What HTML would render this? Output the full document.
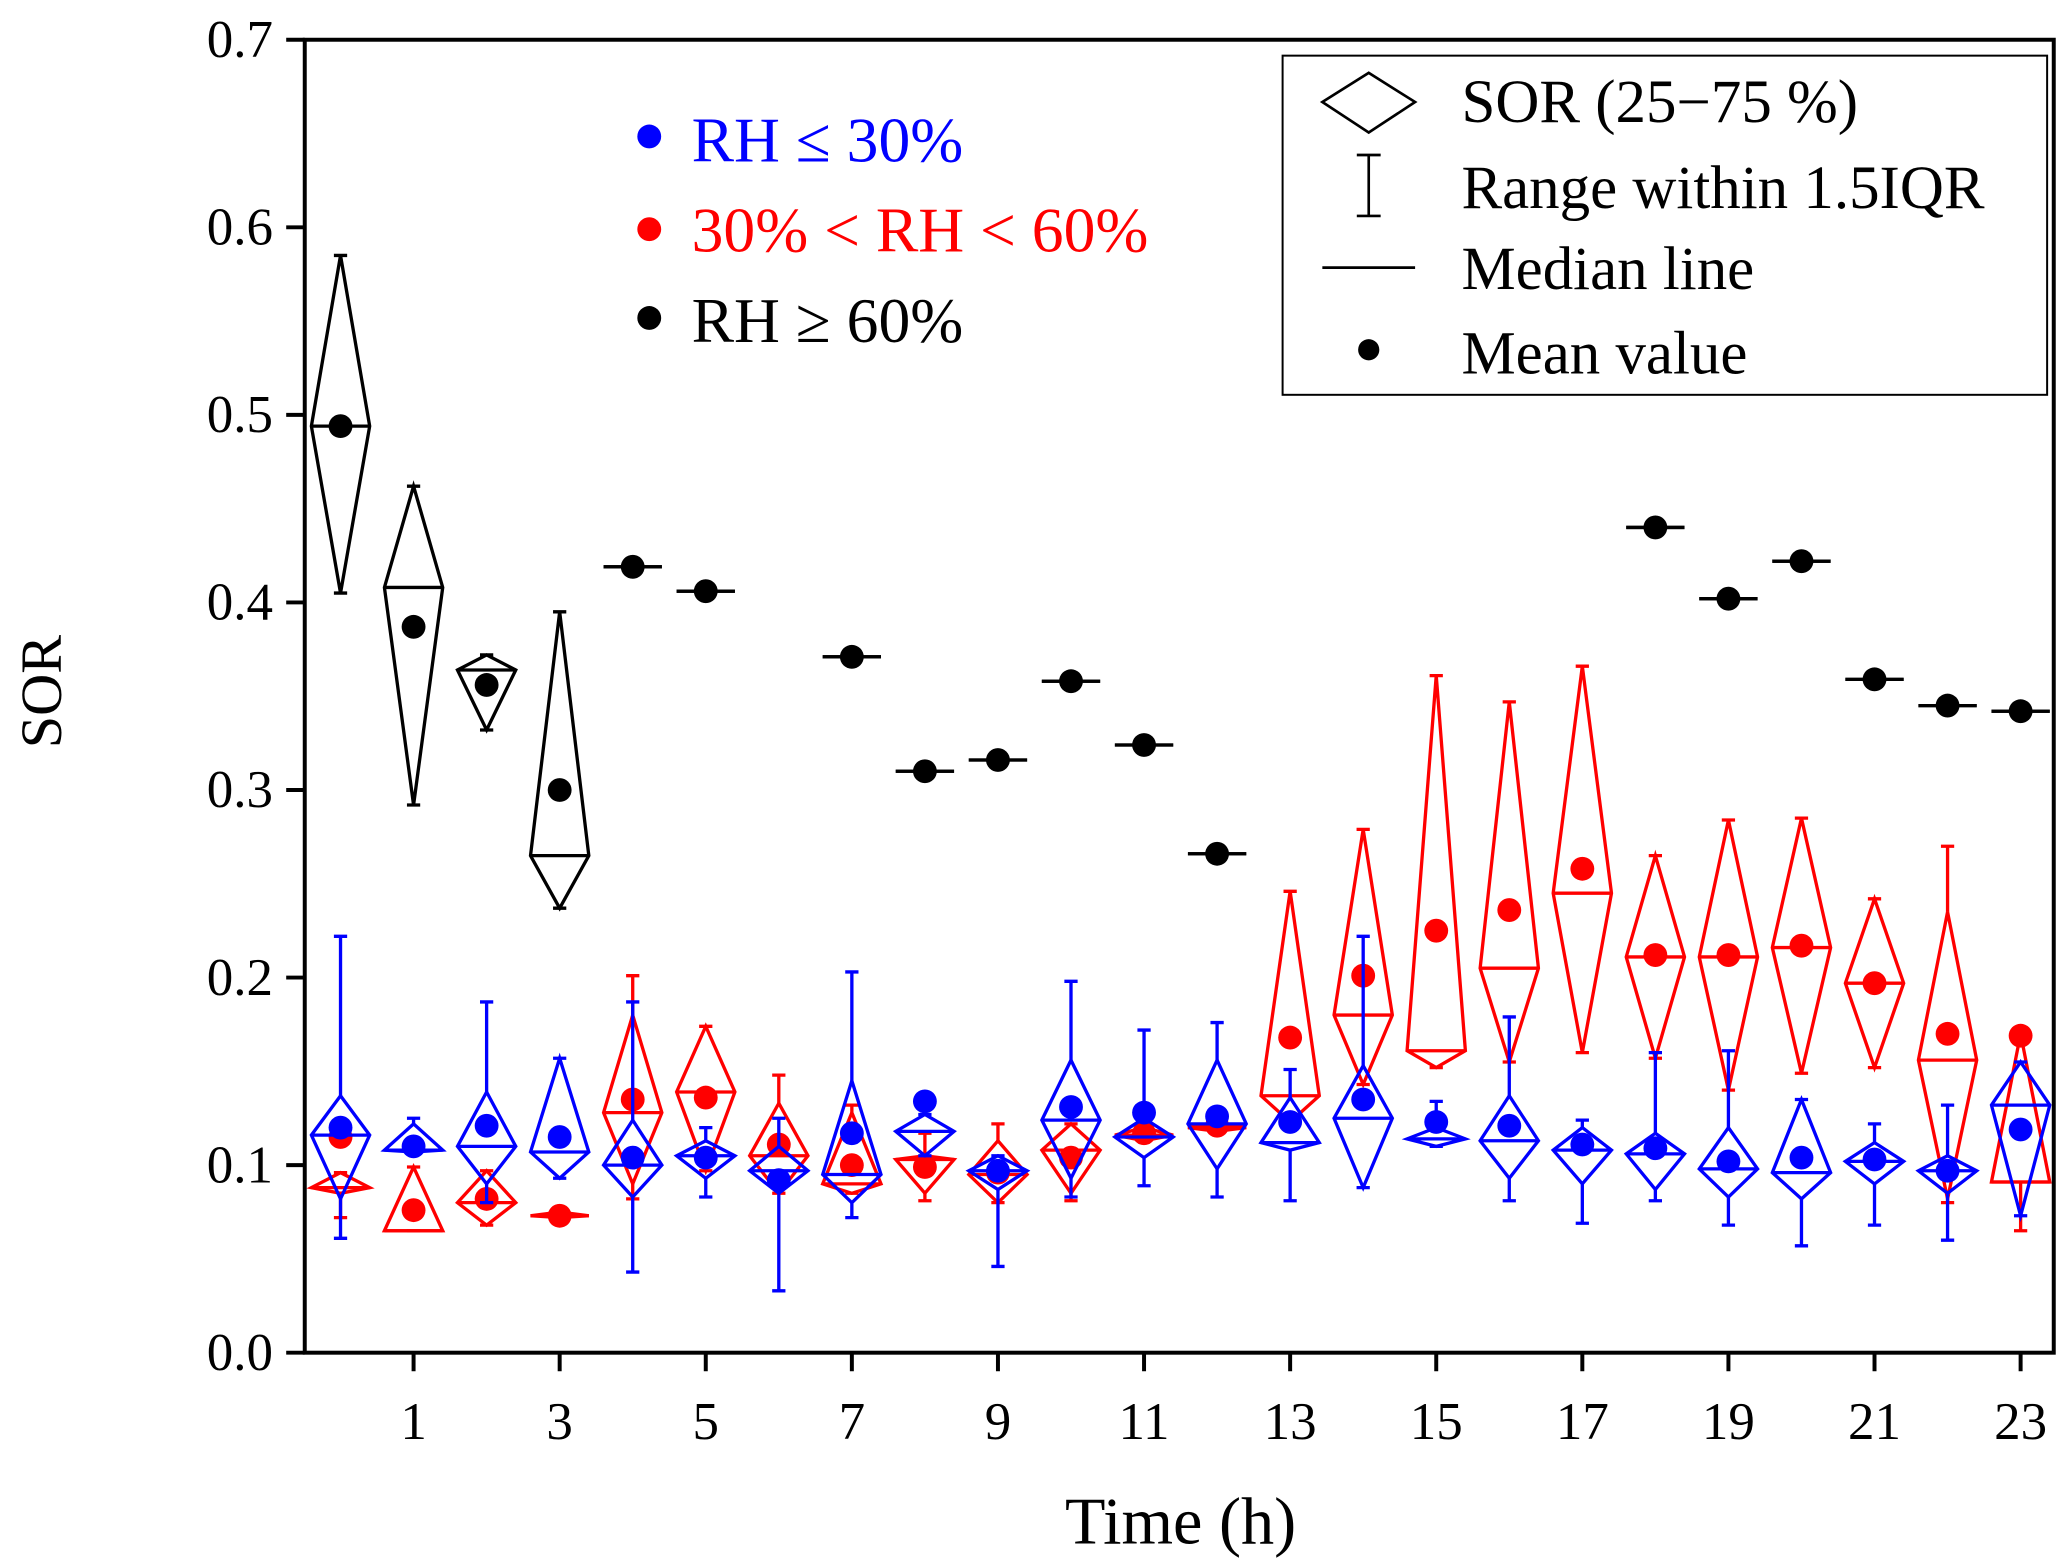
<!DOCTYPE html>
<html><head><meta charset="utf-8"><style>
html,body{margin:0;padding:0;background:#fff}
svg{display:block}
text{font-family:"Liberation Serif",serif}
</style></head><body>
<svg id="chart" width="2067" height="1566" viewBox="0 0 1560 1182" preserveAspectRatio="none" xmlns="http://www.w3.org/2000/svg">
<g id="marks"></g>
<rect x="230" y="30" width="1320" height="991" fill="none" stroke="#000" stroke-width="3"/>
<g id="axes"></g>
<text x="46" y="522" font-size="44" text-anchor="middle" transform="rotate(-90 46 522)">SOR</text>
<text x="891" y="1165" font-size="50" text-anchor="middle">Time (h)</text>
<g>
<circle cx="490" cy="103" r="9" fill="#0000ff"/><text x="522" y="122" font-size="48" fill="#0000ff">RH ≤ 30%</text>
<circle cx="490" cy="173" r="9" fill="#ff0000"/><text x="522" y="190" font-size="48" fill="#ff0000">30% &lt; RH &lt; 60%</text>
<circle cx="490" cy="240" r="9" fill="#000"/><text x="522" y="258" font-size="48" fill="#000">RH ≥ 60%</text>
</g>
<g>
<rect x="968" y="42" width="577" height="256" fill="#fff" stroke="#000" stroke-width="1.5"/>
<polygon points="998,77 1033,55 1068,77 1033,100" fill="none" stroke="#000" stroke-width="2"/>
<text x="1103" y="92" font-size="46">SOR (25−75 %)</text>
<path d="M1033,117 V163 M1024,117 H1042 M1024,163 H1042" stroke="#000" stroke-width="2"/>
<text x="1103" y="157" font-size="46">Range within 1.5IQR</text>
<path d="M998,202 H1068" stroke="#000" stroke-width="2"/>
<text x="1103" y="218" font-size="46">Median line</text>
<circle cx="1033" cy="264" r="8" fill="#000"/>
<text x="1103" y="282" font-size="46">Mean value</text>
</g>
</svg>
<script>
// [q1, q3, median, whiskerLow, whiskerHigh, mean] per hour, null = no data
const hours = [0,1,2,3,4,5,6,7,8,9,10,11,12,13,14,15,16,17,18,19,20,21,22,23];
const blueStats = [
[0.082,0.137,0.116,0.061,0.222,0.120],[0.107,0.122,0.108,0.107,0.125,0.110],[0.090,0.139,0.110,0.080,0.187,0.121],[0.093,0.157,0.107,0.093,0.157,0.115],
[0.083,0.124,0.100,0.043,0.187,0.104],[0.093,0.113,0.105,0.083,0.120,0.104],[0.085,0.110,0.097,0.033,0.125,0.092],[0.080,0.145,0.095,0.072,0.203,0.117],
[0.105,0.127,0.118,0.105,0.127,0.134],[0.087,0.105,0.097,0.046,0.105,0.097],[0.093,0.156,0.124,0.083,0.198,0.131],[0.104,0.125,0.115,0.089,0.172,0.128],
[0.098,0.156,0.122,0.083,0.176,0.126],[0.108,0.136,0.112,0.081,0.151,0.123],[0.088,0.153,0.125,0.088,0.222,0.135],[0.110,0.120,0.114,0.110,0.134,0.123],
[0.093,0.137,0.113,0.081,0.179,0.121],[0.090,0.120,0.108,0.069,0.124,0.111],[0.087,0.117,0.106,0.081,0.160,0.109],[0.083,0.120,0.098,0.068,0.161,0.102],
[0.082,0.135,0.096,0.057,0.135,0.104],[0.090,0.112,0.102,0.068,0.122,0.103],[0.085,0.105,0.097,0.060,0.132,0.097],[0.073,0.155,0.132,0.073,0.155,0.119]];
const redStats = [
[0.085,0.096,0.088,0.072,0.096,0.115],[0.065,0.099,0.065,0.065,0.099,0.076],[0.068,0.097,0.080,0.068,0.097,0.082],[0.072,0.075,0.073,0.072,0.075,0.073],
[0.090,0.180,0.128,0.082,0.201,0.135],[0.097,0.174,0.139,0.097,0.174,0.136],[0.085,0.133,0.105,0.085,0.148,0.111],[0.085,0.128,0.090,0.085,0.132,0.100],
[0.085,0.105,0.103,0.081,0.117,0.099],[0.080,0.113,0.095,0.080,0.122,0.096],[0.085,0.122,0.108,0.081,0.122,0.104],[0.113,0.120,0.116,0.113,0.120,0.117],
[0.118,0.122,0.120,0.118,0.122,0.121],[0.123,0.246,0.137,0.123,0.246,0.168],[0.143,0.279,0.180,0.143,0.279,0.201],[0.152,0.361,0.161,0.152,0.361,0.225],
[0.155,0.347,0.205,0.155,0.347,0.236],[0.160,0.366,0.245,0.160,0.366,0.258],[0.157,0.265,0.211,0.157,0.265,0.212],[0.140,0.284,0.211,0.140,0.284,0.212],
[0.149,0.285,0.216,0.149,0.285,0.217],[0.152,0.242,0.197,0.152,0.242,0.197],[0.082,0.235,0.156,0.080,0.270,0.170],[0.091,0.170,0.091,0.065,0.170,0.169]];
const blackStats = [
[0.405,0.585,0.494,0.405,0.585,0.494],[0.292,0.462,0.408,0.292,0.462,0.387],[0.332,0.372,0.364,0.332,0.372,0.356],[0.237,0.395,0.265,0.237,0.395,0.300],
[0.419,0.419,0.419,0.419,0.419,0.419],[0.406,0.406,0.406,0.406,0.406,0.406],null,[0.371,0.371,0.371,0.371,0.371,0.371],
[0.310,0.310,0.310,0.310,0.310,0.310],[0.316,0.316,0.316,0.316,0.316,0.316],[0.358,0.358,0.358,0.358,0.358,0.358],[0.324,0.324,0.324,0.324,0.324,0.324],
[0.266,0.266,0.266,0.266,0.266,0.266],null,null,null,null,null,
[0.440,0.440,0.440,0.440,0.440,0.440],[0.402,0.402,0.402,0.402,0.402,0.402],[0.422,0.422,0.422,0.422,0.422,0.422],[0.359,0.359,0.359,0.359,0.359,0.359],
[0.345,0.345,0.345,0.345,0.345,0.345],[0.342,0.342,0.342,0.342,0.342,0.342]];
const yTicks = [0,0.1,0.2,0.3,0.4,0.5,0.6,0.7];
const xTicks = [1,3,5,7,9,11,13,15,17,19,21,23];

const NS='http://www.w3.org/2000/svg';
const X=h=>257+h*55.13;
const Y=v=>1021-v*1415.7;
function mk(tag,attrs,parent){const e=document.createElementNS(NS,tag);for(const k in attrs)e.setAttribute(k,attrs[k]);parent.appendChild(e);return e;}
const marks=document.getElementById('marks');
const axes=document.getElementById('axes');
function drawSeries(stats,color,name){
  stats.forEach((s,i)=>{
    if(!s)return;
    const g=mk('g',{},marks);
    
    
    const x=X(hours[i]),w=22;
    const [q1,q3,md,lo,hi,mn]=s;
    mk('path',{d:`M${x},${Y(hi)} V${Y(q3)} M${x},${Y(q1)} V${Y(lo)} M${x-5},${Y(hi)} H${x+5} M${x-5},${Y(lo)} H${x+5}`,stroke:color,'stroke-width':2.5,fill:'none'},g);
    mk('polygon',{points:`${x},${Y(q3)} ${x+w},${Y(md)} ${x},${Y(q1)} ${x-w},${Y(md)}`,stroke:color,'stroke-width':2.5,fill:'none'},g);
    mk('line',{x1:x-w,x2:x+w,y1:Y(md),y2:Y(md),stroke:color,'stroke-width':2.5},g);
    const c=mk('circle',{cx:x,cy:Y(mn),r:9,fill:color},g);
    
    
  });
}
drawSeries(blackStats,'#000','rh-high');
drawSeries(redStats,'#ff0000','rh-mid');
drawSeries(blueStats,'#0000ff','rh-low');
yTicks.forEach(v=>{
  mk('line',{x1:216,x2:230,y1:Y(v),y2:Y(v),stroke:'#000','stroke-width':3},axes);
  const t=mk('text',{x:206,y:Y(v)+13,'font-size':40,'text-anchor':'end'},axes);
  t.textContent=v.toFixed(1);
  
  
});
xTicks.forEach(h=>{
  mk('line',{x1:X(h),x2:X(h),y1:1021,y2:1035,stroke:'#000','stroke-width':3},axes);
  const t=mk('text',{x:X(h),y:1086,'font-size':40,'text-anchor':'middle'},axes);
  t.textContent=h;
  
  
});
</script>
</body></html>
